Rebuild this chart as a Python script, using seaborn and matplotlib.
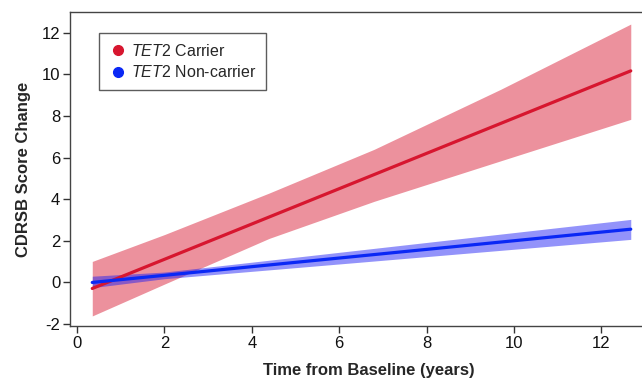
import matplotlib
matplotlib.use("Agg")
import matplotlib.pyplot as plt
import seaborn as sns
import pandas as pd
import numpy as np
from matplotlib.lines import Line2D

# ---- data ----
carrier_time = [0.35, 12.67]
carrier_mean = [-0.29, 10.17]
carrier_band_time = [0.35, 2.0, 4.4, 6.8, 9.7, 12.67]
carrier_upper = [1.01, 2.30, 4.30, 6.40, 9.29, 12.42]
carrier_lower = [-1.61, -0.08, 2.12, 3.90, 5.85, 7.84]

noncarrier_time = [0.35, 12.67]
noncarrier_mean = [0.0, 2.56]
noncarrier_band_time = [0.35, 2.0, 12.67]
noncarrier_upper = [0.30, 0.50, 3.03]
noncarrier_lower = [-0.25, 0.18, 2.07]

x_ticks = [0, 2, 4, 6, 8, 10, 12]
y_ticks = [-2, 0, 2, 4, 6, 8, 10, 12]

sns.set_theme(style="ticks")
plt.rcParams['font.family'] = ['Liberation Sans', 'DejaVu Sans']
plt.rcParams['mathtext.fontset'] = 'custom'
plt.rcParams['mathtext.it'] = 'Liberation Sans:italic'
plt.rcParams['mathtext.rm'] = 'Liberation Sans'
plt.rcParams['axes.unicode_minus'] = False

RED = "#d7162f"
BLUE = "#0a28f5"
BLUE_BAND = "#1a1af5"

fig = plt.figure(figsize=(6.42, 3.81), dpi=100)
ax = fig.add_axes([0.109, 0.144, 0.93, 0.8245])

ax.fill_between(carrier_band_time, carrier_lower, carrier_upper,
                color=RED, alpha=0.47, linewidth=0, zorder=1)
ax.fill_between(noncarrier_band_time, noncarrier_lower, noncarrier_upper,
                color=BLUE_BAND, alpha=0.47, linewidth=0, zorder=2)

df = pd.concat([
    pd.DataFrame({"time": carrier_time, "score": carrier_mean, "group": "Carrier"}),
    pd.DataFrame({"time": noncarrier_time, "score": noncarrier_mean, "group": "Non-carrier"}),
])
sns.lineplot(data=df, x="time", y="score", hue="group",
             palette={"Carrier": RED, "Non-carrier": BLUE},
             linewidth=2.3, ax=ax, legend=False, zorder=3)

ax.set_xlim(-0.16, 13.5)
ax.set_ylim(-2.1, 13.0)
ax.set_xticks(x_ticks)
ax.set_yticks(y_ticks)
ax.tick_params(axis="both", direction="out", length=5, width=1,
               color="#333333", labelsize=12, labelcolor="#111111", pad=2)

for s in ["left", "bottom", "top"]:
    ax.spines[s].set_color("#444444")
    ax.spines[s].set_linewidth(1.0)
ax.spines["right"].set_visible(False)

ax.set_xlabel("Time from Baseline (years)", fontsize=12, fontweight="bold", labelpad=9)
ax.set_ylabel("CDRSB Score Change", fontsize=12, fontweight="bold", labelpad=8)

handles = [
    Line2D([], [], marker="o", linestyle="", color=RED, markersize=7),
    Line2D([], [], marker="o", linestyle="", color=BLUE, markersize=7),
]
labels = [r"$\it{TET2}$ Carrier", r"$\it{TET2}$ Non-carrier"]
leg = ax.legend(handles, labels, loc="upper left", bbox_to_anchor=(0.049, 0.933),
                frameon=True, fancybox=False, fontsize=11.5, handletextpad=0.3,
                handlelength=1.1, borderpad=0.6, labelspacing=0.35, borderaxespad=0)
leg.get_frame().set_edgecolor("#333333")
leg.get_frame().set_linewidth(1.0)

fig.savefig("out.png", dpi=100)
